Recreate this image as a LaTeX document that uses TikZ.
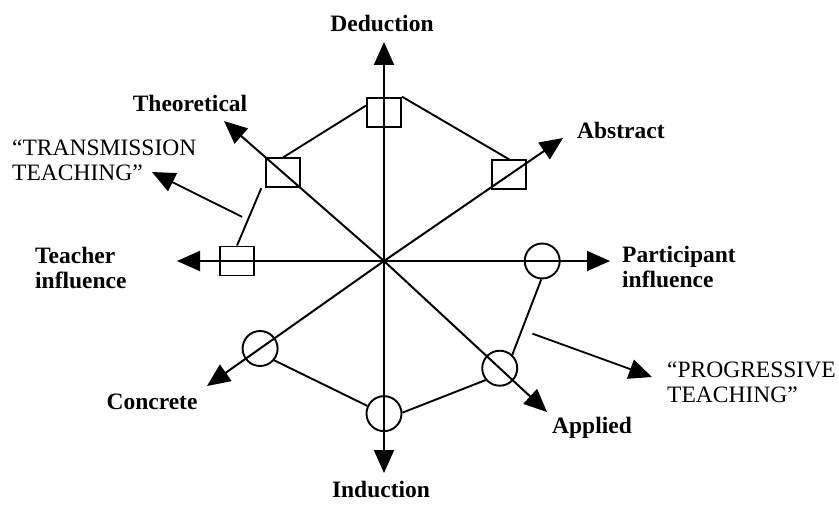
\documentclass[tikz,border=0pt]{standalone}
\usepackage{fontspec}
\setmainfont{Liberation Serif}
\usetikzlibrary{arrows.meta,calc}

\begin{document}
\begin{tikzpicture}[x=1pt,y=-1pt,
    axis/.style={line width=2pt,-{Triangle[length=23pt,width=20pt]}},
    sq/.style={draw,line width=1.9pt,minimum width=34pt,minimum height=29pt,inner sep=0pt},
    ring/.style={draw,circle,line width=1.9pt,minimum size=35pt,inner sep=0pt},
    link/.style={line width=1.9pt},
    pole/.style={font=\fontsize{23.5}{25}\selectfont\bfseries,inner sep=0pt},
    quote/.style={font=\fontsize{23.5}{25}\selectfont,inner sep=0pt,align=left,anchor=north west}]
    \useasboundingbox (0,0) rectangle (839,508);
    % axes
    \coordinate (O) at (384,261);
    \coordinate (ded) at (384,42);
    \coordinate (ind) at (384,473);
    \coordinate (tea) at (177,261);
    \coordinate (par) at (610,261);
    \coordinate (the) at (224,121);
    \coordinate (abs) at (563,138);
    \coordinate (con) at (207,386);
    \coordinate (app) at (547,412);
    \draw[axis] (O) -- (ded) node[sq,pos=0.68] (sqD) {};
    \draw[axis] (O) -- (the) node[sq,pos=0.63] (sqT) {};
    \draw[axis] (O) -- (abs) node[sq,pos=0.70] (sqA) {};
    \draw[axis] (O) -- (tea) node[sq,pos=0.71] (sqTe) {};
    \draw[axis] (O) -- (par) node[ring,pos=0.70] (ciP) {};
    \draw[axis] (O) -- (app) node[ring,pos=0.71] (ciA) {};
    \draw[axis] (O) -- (ind) node[ring,pos=0.72] (ciI) {};
    \draw[axis] (O) -- (con) node[ring,pos=0.70] (ciC) {};
    % profiles
    \draw[link] (sqT.north) -- (sqD.160);
    \draw[link] (sqD.north east) -- (sqA.north);
    \draw[link] ([xshift=-4pt]sqT.south west) -- (sqTe.north);
    \draw[link] (ciC.-40) -- (ciI.155);
    \draw[link] (ciI.3) -- (ciA.220);
    \draw[link] (ciA.47) -- (ciP.267);
    % pole labels
    \node[pole,anchor=base] (lDed) at (382,32) {Deduction};
    \node[pole,anchor=base] (lInd) at (381,497) {Induction};
    \node[pole,anchor=base] (lThe) at (190,112) {Theoretical};
    \node[pole,anchor=base west] (lAbs) at (577,139) {Abstract};
    \node[pole,anchor=base] (lCon) at (152,409) {Concrete};
    \node[pole,anchor=base] (lApp) at (592,433) {Applied};
    \node[pole,align=left,anchor=north west] (lTea) at (35,247) {Teacher\\influence};
    \node[pole,align=left,anchor=north west] (lPar) at (622,246) {Participant\\influence};
    % teaching styles
    \node[quote] (lTrans) at (12,140) {``TRANSMISSION\\TEACHING''};
    \node[quote] (lProg) at (667,362) {``PROGRESSIVE\\TEACHING''};
    \coordinate (trans) at ($([xshift=-4pt]sqT.south west)!0.5!(sqTe.north)+(-7,0)$);
    \coordinate (transTip) at (152,172);
    \coordinate (prog) at ($(ciA.47)!0.28!(ciP.267)+(12,0)$);
    \coordinate (progTip) at (652,377);
    \draw[axis,line width=1.8pt] (trans) -- (transTip);
    \draw[axis,line width=1.8pt] (prog) -- (progTip);
\end{tikzpicture}
\end{document}
